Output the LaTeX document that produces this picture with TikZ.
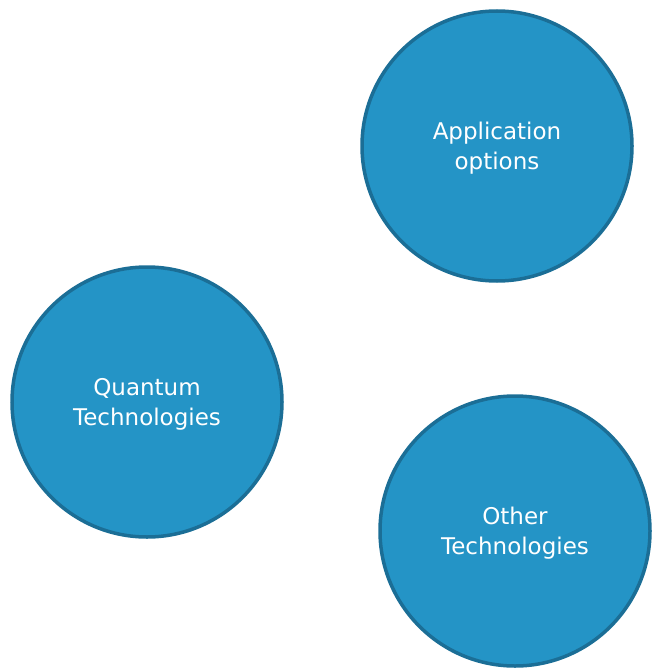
\documentclass[tikz,border=0pt]{standalone}
\usepackage{fontspec}
\setmainfont{DejaVu Sans}
\begin{document}
\begin{tikzpicture}[x=1pt,y=-1pt,
  bubble/.style={circle, draw=bordc, fill=fillc, line width=3.5pt, minimum size=270pt, inner sep=0pt,
    text=white, align=center, font=\fontsize{23}{30}\selectfont}]
\definecolor{fillc}{HTML}{2494C6}
\definecolor{bordc}{HTML}{1B6E96}
\useasboundingbox (0,0) rectangle (654,669);
\node[bubble] (app) at (497,146) {};
\node[bubble] (qt) at (147,402) {};
\node[bubble] (ot) at (515,531) {};
\node[text=white, align=center, font=\fontsize{23}{30}\selectfont] at ([yshift=-2pt]app.center) {Application\\options};
\node[text=white, align=center, font=\fontsize{23}{30}\selectfont] at ([yshift=-2pt]qt.center) {Quantum\\Technologies};
\node[text=white, align=center, font=\fontsize{23}{30}\selectfont] at ([yshift=-2pt]ot.center) {Other\\Technologies};
\end{tikzpicture}
\end{document}
